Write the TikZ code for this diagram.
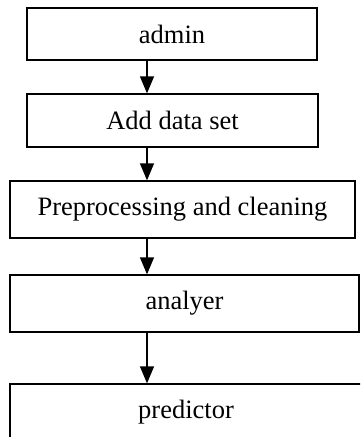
\documentclass[tikz,border=0pt]{standalone}
\usepackage{fontspec}
\setmainfont{Liberation Serif}
\usetikzlibrary{arrows.meta}
\begin{document}
\begin{tikzpicture}[x=1pt,y=-1pt,
  stepbox/.style={draw=black,line width=1.3pt,inner sep=0pt,
    font=\fontsize{26.5pt}{30pt}\selectfont},
  flow/.style={line width=1.3pt,-{Triangle[length=17pt,width=14pt]}}]
\useasboundingbox (0,0) rectangle (360,437);
\clip (0,0) rectangle (360,437);
\node[stepbox,minimum width=290pt,minimum height=52pt] (a) at (172,34) {admin};
\node[stepbox,minimum width=291pt,minimum height=53pt] (b) at (172.5,120.5) {Add data set};
\node[stepbox,minimum width=345pt,minimum height=57pt] (c) at (182.5,209.5) {Preprocessing and cleaning};
\node[stepbox,minimum width=349pt,minimum height=57pt] (d) at (184.5,303.5) {analyer};
\node[stepbox,minimum width=352pt,minimum height=57pt] (e) at (186,412.5) {predictor};
\coordinate (ax) at (147,0);
\draw[flow] (a.south -| ax) -- (b.north -| ax);
\draw[flow] (b.south -| ax) -- (c.north -| ax);
\draw[flow] (c.south -| ax) -- (d.north -| ax);
\draw[flow] (d.south -| ax) -- (e.north -| ax);
\end{tikzpicture}
\end{document}
